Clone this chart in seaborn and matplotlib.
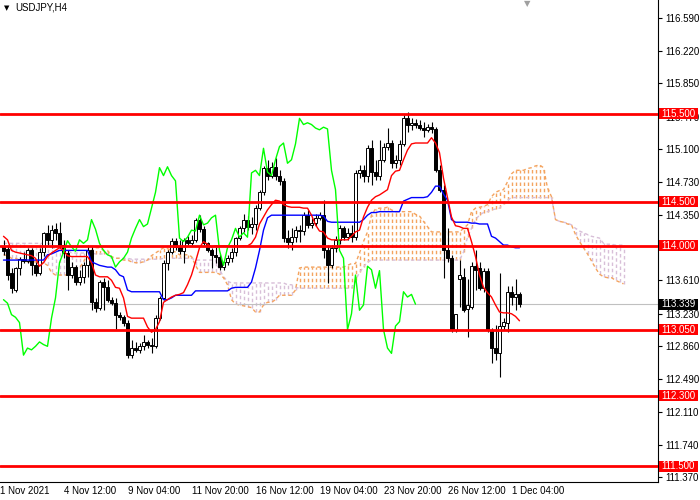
import numpy as np
import pandas as pd
import matplotlib
matplotlib.use("Agg")
import matplotlib.pyplot as plt
from matplotlib.patches import Rectangle
import matplotlib.transforms as mtransforms
import seaborn as sns

# ---------------- data ----------------
symbol = "USDJPY,H4"

x_labels = ["1 Nov 2021", "4 Nov 12:00", "9 Nov 04:00", "11 Nov 20:00", "16 Nov 12:00",
            "19 Nov 04:00", "23 Nov 20:00", "26 Nov 12:00", "1 Dec 04:00"]

y_ticks = [116.590, 116.220, 115.850, 115.470, 115.100, 114.730, 114.350, 113.980,
           113.610, 113.230, 112.860, 112.490, 112.110, 111.740, 111.370]
hidden_ticks = [113.980]   # fully covered by the 114.000 label in the chart

levels = [115.500, 114.500, 114.000, 113.050, 112.300, 111.500]
last_price = 113.339

opens = [
    114.00, 113.97, 113.69, 113.50, 113.75, 113.85, 113.83, 113.95, 113.78, 113.69,
    113.93, 114.15, 114.07, 114.19, 114.15, 114.01, 113.92, 113.67, 113.76, 113.59,
    113.65, 113.78, 113.95, 113.36, 113.30, 113.59, 113.53, 113.39, 113.35, 113.22,
    113.19, 113.13, 112.76, 112.84, 112.82, 112.86, 112.91, 112.88, 112.86, 113.18,
    113.41, 113.81, 113.93, 114.06, 113.99, 113.94, 114.07, 114.03, 114.07, 114.30,
    114.19, 114.03, 113.95, 113.90, 113.88, 113.76, 113.82, 113.86, 113.93, 114.09,
    114.20, 114.30, 114.22, 114.25, 114.43, 114.61, 114.89, 114.80, 114.90, 114.80,
    114.74, 114.09, 114.05, 114.10, 114.18, 114.17, 114.35, 114.24, 114.26, 114.32,
    114.35, 113.95, 113.78, 113.98, 114.07, 114.20, 114.10, 114.15, 114.10, 114.83,
    114.86, 114.80, 115.11, 114.84, 114.80, 114.98, 115.13, 115.17, 114.94, 114.98,
    115.16, 115.45, 115.38, 115.40, 115.38, 115.34, 115.32, 115.35, 115.33, 114.86,
    114.64, 113.95, 113.86, 113.05, 113.63, 113.65, 113.28, 113.31, 113.77, 113.75,
    113.52, 113.72, 113.05, 112.84, 112.78, 113.09, 113.13, 113.48, 113.42, 113.45,
]
highs = [
    114.07, 114.01, 113.75, 113.76, 113.88, 113.93, 113.98, 113.98, 113.82, 113.98,
    114.16, 114.24, 114.24, 114.26, 114.27, 114.07, 113.95, 113.82, 113.78, 113.73,
    113.82, 114.01, 114.00, 113.41, 113.61, 113.64, 113.61, 113.42, 113.41, 113.25,
    113.22, 113.16, 112.93, 112.91, 112.90, 112.99, 112.93, 112.96, 113.22, 113.43,
    113.84, 113.95, 114.09, 114.09, 114.07, 114.09, 114.11, 114.13, 114.32, 114.35,
    114.23, 114.05, 113.98, 113.99, 113.91, 113.84, 113.90, 113.98, 114.10, 114.23,
    114.36, 114.34, 114.33, 114.47, 114.64, 114.91, 114.98, 114.95, 115.00, 114.86,
    114.77, 114.18, 114.20, 114.23, 114.24, 114.39, 114.41, 114.32, 114.36, 114.39,
    114.52, 114.01, 114.01, 114.11, 114.24, 114.23, 114.20, 114.24, 114.86, 114.92,
    114.92, 115.15, 115.20, 114.98, 115.20, 115.17, 115.34, 115.20, 115.03, 115.20,
    115.49, 115.52, 115.45, 115.44, 115.43, 115.41, 115.39, 115.41, 115.35, 114.92,
    114.69, 114.20, 113.90, 113.23, 113.84, 113.75, 113.63, 113.82, 113.95, 113.82,
    113.75, 113.75, 113.07, 113.10, 113.69, 113.18, 113.55, 113.55, 113.63, 113.48,
]
lows = [
    113.90, 113.61, 113.47, 113.48, 113.67, 113.81, 113.81, 113.67, 113.66, 113.67,
    113.89, 114.01, 113.98, 114.07, 113.98, 113.86, 113.50, 113.64, 113.56, 113.56,
    113.58, 113.65, 113.27, 113.25, 113.27, 113.27, 113.36, 113.33, 113.06, 113.16,
    113.09, 112.73, 112.73, 112.80, 112.78, 112.82, 112.84, 112.78, 112.84, 113.16,
    113.39, 113.73, 113.91, 113.95, 113.91, 113.81, 114.01, 114.01, 114.05, 114.16,
    114.01, 113.93, 113.75, 113.81, 113.73, 113.73, 113.78, 113.82, 113.89, 114.07,
    114.16, 114.18, 114.14, 114.18, 114.41, 114.58, 114.75, 114.77, 114.75, 114.69,
    114.05, 113.98, 113.95, 114.05, 114.05, 114.13, 114.20, 114.20, 114.23, 114.30,
    113.86, 113.58, 113.75, 113.93, 114.02, 114.07, 114.07, 114.05, 114.07, 114.77,
    114.73, 114.73, 114.69, 114.75, 114.75, 114.95, 115.09, 114.89, 114.89, 114.92,
    115.14, 115.30, 115.32, 115.34, 115.32, 115.24, 115.30, 115.28, 114.84, 114.61,
    113.64, 113.82, 113.02, 113.02, 113.31, 113.25, 112.97, 113.28, 113.50, 113.50,
    113.48, 113.02, 112.67, 112.70, 112.51, 113.05, 113.02, 113.33, 113.27, 113.31,
]
closes = [
    113.94, 113.67, 113.52, 113.75, 113.85, 113.83, 113.95, 113.78, 113.69, 113.93,
    114.15, 114.07, 114.18, 114.15, 114.01, 113.92, 113.67, 113.76, 113.59, 113.65,
    113.78, 113.95, 113.36, 113.30, 113.59, 113.53, 113.39, 113.35, 113.22, 113.19,
    113.13, 112.76, 112.84, 112.82, 112.86, 112.91, 112.88, 112.86, 113.18, 113.41,
    113.81, 113.93, 114.06, 113.99, 113.94, 114.07, 114.03, 114.07, 114.30, 114.19,
    114.03, 113.95, 113.90, 113.88, 113.76, 113.82, 113.86, 113.93, 114.09, 114.20,
    114.30, 114.22, 114.25, 114.43, 114.61, 114.89, 114.80, 114.90, 114.80, 114.74,
    114.09, 114.05, 114.10, 114.18, 114.17, 114.35, 114.24, 114.26, 114.32, 114.35,
    113.95, 113.78, 113.98, 114.07, 114.20, 114.10, 114.15, 114.10, 114.83, 114.86,
    114.80, 115.11, 114.84, 114.80, 114.98, 115.13, 115.17, 114.94, 114.98, 115.16,
    115.45, 115.38, 115.40, 115.38, 115.34, 115.32, 115.35, 115.33, 114.86, 114.64,
    113.95, 113.86, 113.05, 113.23, 113.67, 113.27, 113.33, 113.77, 113.73, 113.52,
    113.72, 113.05, 112.84, 112.78, 113.09, 113.14, 113.48, 113.42, 113.45, 113.339,
]

tenkan = [
    114.11, 114.07, 113.95, 113.93, 113.92, 113.91, 113.90, 113.89, 113.86, 113.77,
    113.81, 113.88, 113.92, 113.95, 113.98, 113.95, 113.89, 113.88, 113.88, 113.88,
    113.88, 113.88, 113.81, 113.67, 113.65, 113.65, 113.65, 113.61, 113.53, 113.52,
    113.41, 113.20, 113.18, 113.18, 113.18, 113.18, 113.08, 113.02, 113.05, 113.14,
    113.36, 113.39, 113.42, 113.44, 113.45, 113.47, 113.56, 113.67, 113.82, 113.98,
    114.05, 114.02, 113.99, 114.00, 114.00, 114.00, 114.00, 114.00, 114.00, 114.00,
    114.00, 114.00, 114.03, 114.10, 114.25, 114.33, 114.41, 114.47, 114.52, 114.51,
    114.47, 114.45, 114.44, 114.44, 114.44, 114.43, 114.43, 114.35, 114.24, 114.17,
    114.16, 114.09, 114.07, 114.07, 114.07, 114.07, 114.07, 114.11, 114.16, 114.18,
    114.33, 114.44, 114.52, 114.56, 114.58, 114.61, 114.64, 114.80, 114.85, 114.86,
    114.98, 115.09, 115.16, 115.17, 115.17, 115.17, 115.17, 115.23, 115.17, 115.06,
    114.77, 114.55, 114.33, 114.23, 114.22, 114.20, 114.20, 114.05, 113.88, 113.67,
    113.53, 113.47, 113.42, 113.33, 113.25, 113.24, 113.24, 113.23, 113.20, 113.15,
]
kijun = [
    113.84, 113.84, 113.84, 113.84, 113.84, 113.84, 113.84, 113.84, 113.84, 113.84,
    113.84, 113.90, 113.91, 113.93, 113.95, 113.95, 113.95, 113.95, 113.95, 113.95,
    113.95, 113.95, 113.82, 113.80, 113.78, 113.77, 113.76, 113.76, 113.73, 113.67,
    113.65, 113.50, 113.48, 113.48, 113.48, 113.48, 113.48, 113.48, 113.48, 113.48,
    113.39, 113.39, 113.41, 113.44, 113.44, 113.44, 113.44, 113.44, 113.49, 113.49,
    113.49, 113.49, 113.49, 113.49, 113.49, 113.49, 113.49, 113.52, 113.53, 113.53,
    113.53, 113.53, 113.59, 113.75, 113.95, 114.18, 114.32, 114.35, 114.35, 114.35,
    114.35, 114.35, 114.35, 114.35, 114.35, 114.35, 114.35, 114.35, 114.35, 114.35,
    114.34, 114.28, 114.27, 114.27, 114.27, 114.27, 114.27, 114.27, 114.27, 114.27,
    114.30, 114.35, 114.38, 114.38, 114.39, 114.39, 114.39, 114.39, 114.39, 114.39,
    114.51, 114.53, 114.55, 114.55, 114.55, 114.55, 114.56, 114.61, 114.68, 114.68,
    114.59, 114.52, 114.30, 114.27, 114.27, 114.27, 114.27, 114.26, 114.26, 114.25,
    114.25, 114.25, 114.11, 114.09, 114.05, 114.01, 114.01, 113.99, 113.98, 113.98,
]
span_a = [
    113.90, 113.89, 113.86, 113.86, 113.84, 113.84, 113.82, 113.82, 113.82, 113.81,
    113.81, 113.78, 113.70, 113.67, 113.67, 113.67, 113.67, 113.70, 113.75, 113.75,
    113.82, 113.90, 113.95, 113.98, 113.98, 113.95, 113.95, 113.88, 113.86, 113.86,
    113.84, 113.84, 113.82, 113.81, 113.81, 113.82, 113.84, 113.89, 113.92, 113.95,
    113.98, 113.97, 113.95, 113.93, 113.90, 113.90, 113.90, 113.88, 113.78, 113.70,
    113.70, 113.70, 113.70, 113.70, 113.68, 113.64, 113.56, 113.39, 113.34, 113.33,
    113.32, 113.31, 113.30, 113.25, 113.25, 113.33, 113.36, 113.36, 113.39, 113.44,
    113.44, 113.44, 113.44, 113.50, 113.75, 113.76, 113.76, 113.76, 113.76, 113.76,
    113.76, 113.76, 113.76, 113.76, 113.76, 113.76, 113.78, 113.80, 113.80, 113.92,
    114.05, 114.16, 114.35, 114.42, 114.43, 114.43, 114.44, 114.41, 114.39, 114.39,
    114.39, 114.39, 114.39, 114.36, 114.34, 114.28, 114.22, 114.16, 114.16, 114.16,
    114.16, 114.16, 114.16, 114.16, 114.16, 114.20, 114.24, 114.39, 114.43, 114.44,
    114.45, 114.47, 114.56, 114.61, 114.63, 114.64, 114.73, 114.82, 114.86, 114.86,
    114.86, 114.88, 114.89, 114.91, 114.92, 114.89, 114.66, 114.56, 114.30, 114.28,
    114.27, 114.25, 114.24, 114.13, 114.05, 113.98, 113.91, 113.83, 113.75, 113.68,
    113.65, 113.64, 113.64, 113.61, 113.59, 113.57,
]
span_b = [
    114.03, 114.03, 114.03, 114.03, 114.03, 114.03, 114.03, 114.03, 114.03, 114.03,
    114.03, 114.03, 114.02, 113.95, 113.95, 113.95, 113.95, 113.92, 113.92, 113.92,
    113.92, 113.92, 113.92, 113.91, 113.91, 113.91, 113.91, 113.86, 113.86, 113.86,
    113.86, 113.86, 113.85, 113.85, 113.85, 113.85, 113.85, 113.85, 113.85, 113.85,
    113.86, 113.86, 113.86, 113.86, 113.86, 113.86, 113.86, 113.86, 113.84, 113.84,
    113.84, 113.84, 113.84, 113.84, 113.73, 113.65, 113.60, 113.58, 113.58, 113.58,
    113.58, 113.58, 113.58, 113.58, 113.58, 113.58, 113.58, 113.58, 113.58, 113.58,
    113.58, 113.56, 113.56, 113.53, 113.52, 113.52, 113.52, 113.52, 113.52, 113.52,
    113.52, 113.52, 113.52, 113.52, 113.52, 113.52, 113.52, 113.52, 113.61, 113.70,
    113.76, 113.82, 113.84, 113.84, 113.84, 113.84, 113.84, 113.84, 113.84, 113.84,
    113.84, 113.84, 113.84, 113.84, 113.84, 113.84, 113.84, 113.84, 113.84, 113.84,
    113.84, 113.84, 113.84, 113.84, 113.84, 113.93, 114.10, 114.20, 114.30, 114.35,
    114.38, 114.39, 114.41, 114.42, 114.43, 114.48, 114.52, 114.55, 114.55, 114.55,
    114.55, 114.55, 114.55, 114.55, 114.55, 114.55, 114.55, 114.55, 114.30, 114.28,
    114.27, 114.26, 114.24, 114.20, 114.17, 114.15, 114.13, 114.11, 114.10, 114.09,
    114.03, 114.02, 114.02, 114.01, 114.01, 114.01,
]
chikou_shift = 26

# ---------------- style ----------------
sns.set_style("white")
plt.rcParams["font.family"] = ["Liberation Sans", "DejaVu Sans"]

W, H = 700, 500
fig = plt.figure(figsize=(7, 5), dpi=100)
plot_w, plot_h = 658, 481.5
ax = fig.add_axes([0, 1 - plot_h / H, plot_w / W, plot_h / H])
ax.set_facecolor("white")

bars = pd.DataFrame({"open": opens, "high": highs, "low": lows, "close": closes})
bars["i"] = np.arange(len(bars))
cloud = pd.DataFrame({"a": span_a, "b": span_b})
cloud["i"] = np.arange(len(cloud))

C_A = "#F4A460"
C_B = "#D8BFD8"

# Kumo hatching (vertical dashed strokes per bar)
hatch_cols = np.where(cloud["a"] >= cloud["b"], C_A, C_B)
ax.vlines(cloud["i"], np.minimum(cloud["a"], cloud["b"]), np.maximum(cloud["a"], cloud["b"]),
          colors=hatch_cols, linestyles=(0, (2.5, 2.0)), linewidth=1.0, zorder=1)
ax.plot(cloud["i"], cloud["b"], color=C_B, lw=1.0, ls=(0, (2.5, 2)), zorder=1.2)
ax.plot(cloud["i"], cloud["a"], color=C_A, lw=1.0, ls=(0, (2.5, 2)), zorder=1.3)

# last price line
ax.axhline(last_price, color="#C0C0C0", lw=0.8, zorder=1.5)

# candles
up = bars["close"] >= bars["open"]
body_lo = np.minimum(bars["open"], bars["close"])
body_h = np.maximum(np.abs(bars["close"] - bars["open"]), 0.006)
ax.vlines(bars["i"], bars["low"], bars["high"], color="black", lw=0.8, zorder=2)
ax.bar(bars["i"], body_h, bottom=body_lo, width=0.52,
       color=np.where(up, "white", "black"), edgecolor="black", linewidth=0.7, zorder=2.1)

# Ichimoku lines
sns.lineplot(x=bars["i"].to_numpy(), y=np.array(kijun), ax=ax, color="#0000FF", lw=1.0,
             estimator=None, sort=False, legend=False, zorder=3)
sns.lineplot(x=bars["i"].to_numpy(), y=np.array(tenkan), ax=ax, color="#FF0000", lw=1.0,
             estimator=None, sort=False, legend=False, zorder=3.1)
chikou_y = np.array(closes[chikou_shift:])
sns.lineplot(x=np.arange(len(chikou_y)), y=chikou_y, ax=ax, color="#00FF00", lw=1.0,
             estimator=None, sort=False, legend=False, zorder=3.2)
ax.set_xlabel("")
ax.set_ylabel("")

# horizontal levels
for lv in levels:
    ax.axhline(lv, color="#FF0000", lw=2.0, zorder=4)

# limits
ax.set_xlim(-0.875, 163.625)
ax.set_ylim(111.324, 116.795)

# spines
for s in ["top", "left"]:
    ax.spines[s].set_visible(False)
for s in ["right", "bottom"]:
    ax.spines[s].set_color("black")
    ax.spines[s].set_linewidth(0.8)

# y axis on the right
ax.yaxis.tick_right()
ax.set_yticks(y_ticks)
ax.set_yticklabels(["" if v in hidden_ticks else f"{v:.3f}" for v in y_ticks])
ax.tick_params(axis="y", direction="out", length=3, width=0.8, pad=2, labelsize=7,
               colors="black", left=False, right=True)

# x axis
xt = [16 * k - 0.85 for k in range(len(x_labels))]
ax.set_xticks(xt)
ax.set_xticklabels(x_labels, ha="left")
ax.tick_params(axis="x", direction="out", length=3, width=0.8, pad=0, labelsize=7,
               colors="black")
ax.grid(False)

# price labels on the right axis
blend = mtransforms.blended_transform_factory(ax.transAxes, ax.transData)
bw = 39 / plot_w
bh = 11 / 88.0
for lv, fc in [(v, "#FF0000") for v in levels] + [(last_price, "black")]:
    ax.add_patch(Rectangle((1 + 1 / plot_w, lv - bh / 2), bw, bh, transform=blend,
                           facecolor=fc, edgecolor="none", clip_on=False, zorder=6))
    ax.text(1 + 1 / plot_w + bw / 2, lv, f"{lv:.3f}", transform=blend, ha="center",
            va="center", fontsize=7, color="white", zorder=7, clip_on=False)

# header
fig.text(4 / W, 1 - 8 / H, "\u25BC", fontsize=5, family="DejaVu Sans", va="center",
         ha="left", color="black")
fig.text(15 / W, 1 - 8 / H, symbol, fontsize=7, va="center", ha="left", color="black")
fig.text(527 / W, 1 - 4 / H, "\u25BC", fontsize=6, family="DejaVu Sans", va="center",
         ha="center", color="#A0A0A0")

fig.savefig("out.png", dpi=100)
